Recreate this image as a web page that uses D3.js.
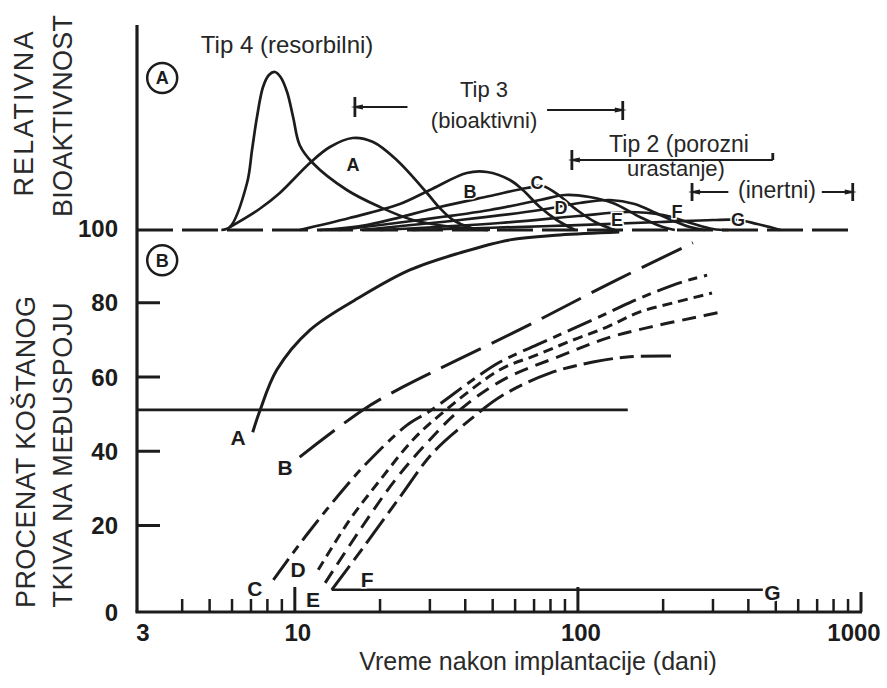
<!DOCTYPE html>
<html><head><meta charset="utf-8">
<script src="https://cdn.jsdelivr.net/npm/d3@7"></script>
<style>body{margin:0;background:#fff}svg{display:block}</style>
</head><body><svg id="c" width="887" height="688"></svg>
<script>
// ---------- data ----------
const xTickValues = [3, 10, 100, 1000];
const xTickLabels = ["3", "10", "100", "1000"];
const xMinorTicks = [4,5,6,7,8,9,20,30,40,50,60,70,80,90,200,300,400,500,600,700,800,900];
const yTickValues = [0, 20, 40, 60, 80, 100];
const yTickLabels = ["0", "20", "40", "60", "80", "100"];

// upper panel (relative bioactivity above baseline), [days, value]
const upTip4 = [[5.5,0],[5.9,3],[6.78,47],[7.06,80],[7.35,113],[7.72,143],[8.1,155],[8.5,158],[8.9,153],[9.39,138],[9.86,113],[10.4,85],[11.57,67],[15.27,40],[19.97,23],[26.1,10],[36,3],[48.9,0]];
const upA = [[5.9,3],[7.5,21],[8.85,37],[11.3,67],[13.3,83],[16.0,92],[18.9,88],[22.9,70],[29.3,37],[32.5,22],[36.2,10],[42,2],[48,0]];
const upB = [[10.4,0],[15.6,12],[23.5,26],[30.0,40],[40.5,57],[47.7,58],[57.5,50],[63.9,40],[73.4,23],[84.2,10],[97.6,0]];
const upC = [[12.25,0],[17.9,5],[32.5,23],[48.9,34],[66,42],[75,44],[86.3,34],[99.2,20],[115,8],[135,0]];
const upD = [[14.4,0],[27.6,10],[48.9,20],[73.4,30],[90.1,35],[110,33],[132.9,27],[165.6,13],[195,4],[220,0]];
const upE = [[17,0],[38.3,10],[73.4,20],[101.5,27],[129.8,30],[158.7,26],[195,15],[248.7,3],[281,0]];
const upF = [[20,0],[53,7],[100,14],[150,18],[200,15],[250,7],[300,1],[340,0]];
const upG = [[26,0],[80,4],[195,8],[300,10],[367,10],[430,6],[520,0]];

// lower panel (% bone tissue at interface), [days, percent]
const lowA = [[7.10,45],[7.52,50.7],[8.64,61.8],[11.3,72.5],[17.0,81.4],[25.5,88.7],[38.3,93.3],[57.5,96.8],[86.3,98.1],[140,98.9]];
const lowB = [[10.4,38.3],[17.4,51],[24.1,57.2],[37.4,64.4],[69.3,74.4],[132.9,85.5],[254.9,96]];
const lowC = [[8.4,7.4],[11.0,17.7],[15.3,30.8],[18.4,37.5],[24.9,46.9],[30,50.7],[41.5,58.5],[53,63.9],[71.6,68.5],[93.7,72.5],[129.7,77.4],[165.6,81.1],[235,85.5],[286,87.3]];
const lowD = [[12.1,9.7],[15.6,21.3],[20,32.1],[26.1,42.9],[32.5,49.6],[53,61.8],[71.6,65.8],[95.9,69.8],[126.5,73.3],[165.6,77.4],[224,80.1],[297.6,82.5]];
const lowE = [[12.8,6.7],[17,18.9],[22.6,32.1],[28.8,41.5],[38.3,51],[54.4,59.1],[88.5,65.8],[127.5,70.4],[179.6,73.3],[263,76],[323,77.4]];
const lowF = [[13.5,5.1],[17.4,14.7],[23.5,27.5],[30.7,39.4],[41.5,48.3],[54.4,55],[79.6,60.9],[113,63.9],[152.5,65.3],[224,65.5]];
const lowG = [[13.5,5.1],[450,5.1]];
const level50 = [[2.77,51],[150,51]];

// range annotations (days)
const tip3Range = [16.3, 144];
const tip2Range = [95.2, 488];
const inertRange = [253, 935];

// ---------- scales ----------
const svg = d3.select("#c");
const x = d3.scaleLog().domain([2.77, 1000]).range([137, 861]);
const yLow = d3.scaleLinear().domain([0, 20, 100]).range([612, 525, 228]);
const yUp = d3.scaleLinear().domain([0, 160]).range([230, 70]);
const INK = "#1c1c1c";
const FONT = "'Liberation Sans', Arial, Helvetica, sans-serif";

const lineUp = d3.line().x(d => x(d[0])).y(d => yUp(d[1])).curve(d3.curveCatmullRom.alpha(0.5));
const lineLow = d3.line().x(d => x(d[0])).y(d => yLow(d[1])).curve(d3.curveCatmullRom.alpha(0.5));

// ---------- axes ----------
svg.append("line").attr("x1", x(2.77)).attr("x2", x(2.77)).attr("y1", yUp(205)).attr("y2", yLow(0))
  .attr("stroke", INK).attr("stroke-width", 3.2);
svg.append("line").attr("x1", x(2.77) - 1.5).attr("x2", x(1000) + 1).attr("y1", yLow(0)).attr("y2", yLow(0))
  .attr("stroke", INK).attr("stroke-width", 3.2);

// y axis (lower panel)
const yAxis = d3.axisLeft(yLow).tickValues(yTickValues).tickFormat((d, i) => yTickLabels[i])
  .tickSize(-23).tickPadding(19);
const gy = svg.append("g").attr("transform", `translate(${x(2.77)},0)`).call(yAxis);
gy.select(".domain").remove();
gy.selectAll(".tick line").attr("stroke", INK).attr("stroke-width", 3)
  .attr("opacity", d => (d === 0 || d === 100) ? 0 : 1);
gy.selectAll(".tick text").attr("fill", INK).attr("font-family", FONT).attr("font-weight", "bold")
  .attr("font-size", 24).attr("dy", "0.36em");

// x axis ticks (inside, upward)
svg.append("g").selectAll("line").data(xMinorTicks).join("line")
  .attr("x1", d => x(d)).attr("x2", d => x(d)).attr("y1", yLow(0)).attr("y2", yLow(0) - 13)
  .attr("stroke", INK).attr("stroke-width", 2.5);
svg.append("g").selectAll("line").data(xTickValues.filter(d => d > 3)).join("line")
  .attr("x1", d => x(d)).attr("x2", d => x(d)).attr("y1", yLow(0)).attr("y2", d => yLow(0) - (d === 1000 ? 20 : 25))
  .attr("stroke", INK).attr("stroke-width", 3);
svg.append("g").selectAll("text").data(xTickValues).join("text")
  .attr("x", (d, i) => x(d) + (i === 0 ? -4 : i === 3 ? -7 : 3)).attr("y", 641)
  .attr("text-anchor", "middle").attr("font-family", FONT).attr("font-weight", "bold")
  .attr("font-size", 24).attr("fill", INK).text((d, i) => xTickLabels[i]);

// axis titles
svg.append("text").attr("x", 538).attr("y", 670).attr("text-anchor", "middle")
  .attr("font-family", FONT).attr("font-size", 25).attr("fill", "#2a2a2a")
  .text("Vreme nakon implantacije (dani)");
function vtext(tx, ty, txt, len) {
  const t = svg.append("text").attr("transform", `translate(${tx},${ty}) rotate(-90)`)
    .attr("text-anchor", "middle").attr("font-family", FONT).attr("font-size", 27)
    .attr("fill", "#2a2a2a").text(txt);
  if (len) t.attr("textLength", len).attr("lengthAdjust", "spacing");
}
vtext(33, 114, "RELATIVNA", 165);
vtext(72, 116, "BIOAKTIVNOST", 202);
vtext(35, 452, "PROCENAT KOŠTANOG", 312);
vtext(72, 455, "TKIVA NA MEĐUSPOJU", 305);

// ---------- upper panel ----------
svg.append("line").attr("x1", x(2.77)).attr("x2", x(935)).attr("y1", yUp(0)).attr("y2", yUp(0))
  .attr("stroke", INK).attr("stroke-width", 3).attr("stroke-dasharray", "36,9");
[upG, upF, upE, upD, upC, upB, upA, upTip4].forEach(d => {
  svg.append("path").attr("d", lineUp(d)).attr("fill", "none").attr("stroke", INK)
    .attr("stroke-width", 2.7).attr("stroke-linejoin", "round");
});

// ---------- lower panel ----------
svg.append("path").attr("d", d3.line().x(d => x(d[0])).y(d => yLow(d[1]))(level50))
  .attr("fill", "none").attr("stroke", INK).attr("stroke-width", 2.6);
svg.append("path").attr("d", d3.line().x(d => x(d[0])).y(d => yLow(d[1]))(lowG))
  .attr("fill", "none").attr("stroke", INK).attr("stroke-width", 2.6);
const lowSeries = [lowA, lowB, lowC, lowD, lowE, lowF];
const lowDash = [null, "44,12", "26,7,9,7", "10,6", "14,8", "30,7,14,7"];
lowSeries.forEach((d, i) => {
  const p = svg.append("path").attr("d", lineLow(d)).attr("fill", "none").attr("stroke", INK)
    .attr("stroke-width", 3);
  if (lowDash[i]) p.attr("stroke-dasharray", lowDash[i]);
});

// ---------- labels ----------
const upLabelText = ["A", "B", "C", "D", "E", "F", "G"];
const upLabelPos = [[16.05,65],[41.6,38],[71.7,47],[87.2,22],[137.4,10],[224,18],[367.6,10]];
svg.append("g").selectAll("text").data(upLabelPos).join("text")
  .attr("x", d => x(d[0])).attr("y", d => yUp(d[1])).attr("dy", "0.35em").attr("text-anchor", "middle")
  .attr("font-family", FONT).attr("font-weight", "bold").attr("font-size", 18).attr("fill", INK)
  .attr("stroke", "#fff").attr("stroke-width", 3).attr("paint-order", "stroke")
  .text((d, i) => upLabelText[i]);

const lowLabelText = ["A", "B", "C", "D", "E", "F", "G"];
const lowLabelPos = [[6.3,43.7],[9.23,35.4],[7.23,5.5],[10.26,9.7],[11.6,2.8],[18.0,7.4],[487,4.6]];
svg.append("g").selectAll("text").data(lowLabelPos).join("text")
  .attr("x", d => x(d[0])).attr("y", d => yLow(d[1])).attr("dy", "0.36em").attr("text-anchor", "middle")
  .attr("font-family", FONT).attr("font-weight", "bold").attr("font-size", 21).attr("fill", INK)
  .attr("stroke", "#fff").attr("stroke-width", 3).attr("paint-order", "stroke")
  .text((d, i) => lowLabelText[i]);

// circled panel labels
function circled(cx, cy, t) {
  svg.append("circle").attr("cx", cx).attr("cy", cy).attr("r", 15).attr("fill", "#fff")
    .attr("stroke", INK).attr("stroke-width", 2.5);
  svg.append("text").attr("x", cx).attr("y", cy).attr("dy", "0.36em").attr("text-anchor", "middle")
    .attr("font-family", FONT).attr("font-weight", "bold").attr("font-size", 18).attr("fill", INK).text(t);
}
circled(x(3.4), yUp(152), "A");
circled(x(3.4), yLow(91.3), "B");

// type annotations
function txt(d, v, s, size) {
  svg.append("text").attr("x", x(d)).attr("y", yUp(v)).attr("text-anchor", "middle")
    .attr("font-family", FONT).attr("font-size", size || 22).attr("fill", "#262626").text(s);
}
txt(9.39, 177, "Tip 4 (resorbilni)", 24);
txt(46.6, 133, "Tip 3", 22);
txt(46.6, 102, "(bioaktivni)", 22);
txt(227.5, 78, "Tip 2 (porozni", 23);
txt(222, 54, "urastanje)", 22);
txt(505, 32, "(inertni)", 23);

function seg(d1, d2, v, w) {
  svg.append("line").attr("x1", x(d1)).attr("x2", x(d2)).attr("y1", yUp(v)).attr("y2", yUp(v))
    .attr("stroke", INK).attr("stroke-width", w || 2);
}
function vtick(d, v1, v2) {
  svg.append("line").attr("x1", x(d)).attr("x2", x(d)).attr("y1", yUp(v1)).attr("y2", yUp(v2))
    .attr("stroke", INK).attr("stroke-width", 2.8);
}
function arrow(d, v, dir) {
  const px = x(d) + dir * 4, py = yUp(v);
  svg.append("path").attr("d", `M${px},${py} l${-dir * 12},-2.6 l0,5.2 z`).attr("fill", INK);
}
// Tip 3
seg(tip3Range[0], 25, 123); vtick(tip3Range[0], 133, 113); arrow(tip3Range[0], 123, -1);
seg(77.8, tip3Range[1], 120); vtick(tip3Range[1], 129, 110); arrow(tip3Range[1], 120, 1);
// Tip 2
seg(tip2Range[0], tip2Range[1], 70); vtick(tip2Range[0], 80, 60); arrow(tip2Range[0], 70, -1);
vtick(tip2Range[1], 70, 77);
// inert
seg(inertRange[0], 340, 38); vtick(inertRange[0], 47, 29); arrow(inertRange[0], 38, -1);
seg(727, inertRange[1], 38); vtick(inertRange[1], 47, 29); arrow(inertRange[1], 38, 1);
</script></body></html>
